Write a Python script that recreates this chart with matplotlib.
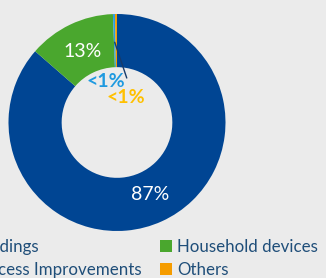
import numpy as np
import matplotlib
matplotlib.use('Agg')
import matplotlib.pyplot as plt
from matplotlib.patches import Patch

# data, clockwise from 12 o'clock
categories = ['Buildings', 'Household devices', 'Process Improvements', 'Others']
shares = [86.4, 13.0, 0.3, 0.3]
labels = ['87%', '13%', '<1%', '<1%']
colors = ['#004593', '#4aa72e', '#2b9de0', '#f59c00']
label_colors = ['white', 'white', '#1f9ae0', '#ffc000']

bg = '#ebebeb'
text_blue = '#1f4e79'
plt.rcParams['font.family'] = ['Lato', 'DejaVu Sans']

fig = plt.figure(figsize=(3.26, 2.78), dpi=100, facecolor=bg)
ax = fig.add_axes([8.5/326, 47/278, 217/326, 217/278])
ax.set_facecolor(bg)

wedges, _ = ax.pie(shares, colors=colors, startangle=90, counterclock=False,
                   radius=1.0, wedgeprops=dict(width=0.49, edgecolor='none'))
ax.set_xlim(-1, 1)
ax.set_ylim(-1, 1)
ax.set_aspect('equal')
ax.axis('off')

# big labels inside the ring
for w, lab, c in zip(wedges[:2], labels[:2], label_colors[:2]):
    ang = np.deg2rad((w.theta1 + w.theta2) / 2)
    r = 0.73
    ax.text(r*np.cos(ang), r*np.sin(ang), lab, color=c, fontsize=14,
            ha='center', va='center')

# small slices: labels inside the hole, leader line from the thin slices
w = wedges[2]
ang = np.deg2rad((w.theta1 + w.theta2) / 2)
ax.annotate('', xy=(0.74*np.cos(ang), 0.74*np.sin(ang)), xytext=(0.09, 0.41),
            arrowprops=dict(arrowstyle='-', color='#163a6b', lw=1.0,
                            shrinkA=0, shrinkB=0))
ax.text(-0.10, 0.38, labels[2], color=label_colors[2], fontsize=14,
        fontweight='bold', ha='center', va='center')
ax.text(0.085, 0.23, labels[3], color=label_colors[3], fontsize=14,
        fontweight='bold', ha='center', va='center')

order = [0, 2, 1, 3]
handles = [Patch(facecolor=colors[i], edgecolor='none') for i in order]
leg = fig.legend(handles, [categories[i] for i in order], ncol=2,
                 loc='upper left', bbox_to_anchor=(-0.165, 0.17),
                 frameon=False, fontsize=12.2, labelcolor=text_blue,
                 handlelength=0.7, handleheight=0.7, handletextpad=0.3,
                 columnspacing=1.1, labelspacing=0.4, borderpad=0)

fig.savefig('out.png', dpi=100, facecolor=bg)
